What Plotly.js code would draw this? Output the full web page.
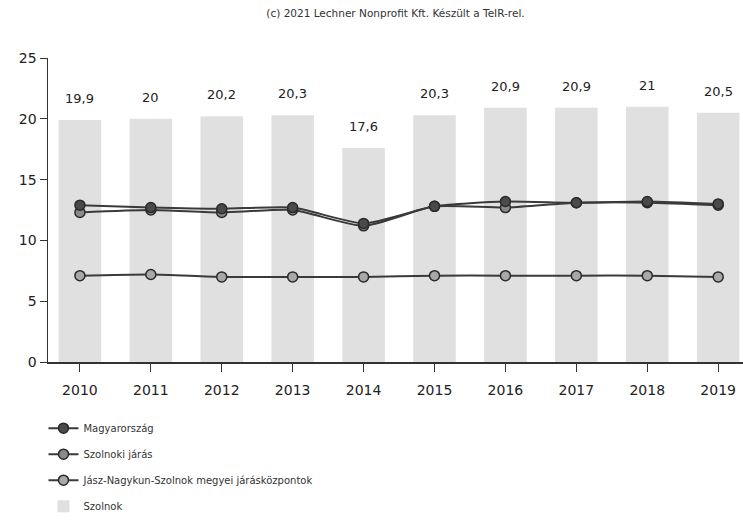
<!DOCTYPE html>
<html>
<head>
<meta charset="utf-8">
<script src="https://cdn.plot.ly/plotly-3.0.1.min.js"></script>
<style>html,body{margin:0;padding:0;background:#fff;}#chart{width:743px;height:522px;}</style>
</head>
<body>
<div id="chart"></div>
<script>
var years = ['2010','2011','2012','2013','2014','2015','2016','2017','2018','2019'];
var szolnok = [19.9, 20, 20.2, 20.3, 17.6, 20.3, 20.9, 20.9, 21, 20.5];
var magyarorszag = [12.9, 12.7, 12.6, 12.7, 11.4, 12.8, 13.2, 13.1, 13.2, 13.0];
var szolnokiJaras = [12.3, 12.5, 12.3, 12.5, 11.2, 12.8, 12.7, 13.1, 13.1, 12.9];
var jaraskozpontok = [7.1, 7.2, 7.0, 7.0, 7.0, 7.1, 7.1, 7.1, 7.1, 7.0];
var seriesNames = ['Magyarország', 'Szolnoki járás', 'Jász-Nagykun-Szolnok megyei járásközpontok', 'Szolnok'];
var yTicks = [0, 5, 10, 15, 20, 25];

var font = 'DejaVu Sans, Verdana, sans-serif';

function lineTrace(name, vals, fill, rank) {
  return {
    type: 'scatter', mode: 'lines+markers', x: years, y: vals, name: name,
    legendgroup: 'g' + rank, legendrank: rank,
    line: {color: '#3a3a3a', width: 2, shape: 'spline', smoothing: 0.6},
    marker: {symbol: 'circle', size: 10, color: fill, line: {color: '#2a2a2a', width: 1.5}},
    hoverinfo: 'x+y'
  };
}

var traces = [
  {type: 'bar', x: years, y: szolnok, name: seriesNames[3], legendgroup: 'g4', legendrank: 4,
   marker: {color: '#e0e0e0', line: {width: 0}}, hoverinfo: 'x+y'},
  lineTrace(seriesNames[2], jaraskozpontok, '#a8a8a8', 3),
  lineTrace(seriesNames[1], szolnokiJaras, '#8a8a8a', 2),
  lineTrace(seriesNames[0], magyarorszag, '#4a4a4a', 1)
];

var annotations = years.map(function (yr, i) {
  return {x: i, y: szolnok[i], xref: 'x', yref: 'y', text: String(szolnok[i]).replace('.', ','),
          showarrow: false, xanchor: 'center', yanchor: 'bottom', yshift: 12,
          font: {family: font, size: 13, color: '#222'}};
});

var layout = {
  width: 743, height: 522,
  margin: {l: 48, r: 0, t: 58, b: 160},
  paper_bgcolor: '#fff', plot_bgcolor: '#fff',
  font: {family: font, color: '#222'},
  title: {text: '(c) 2021 Lechner Nonprofit Kft. Készült a TeIR-rel.', x: 0.5, xref: 'paper',
          y: 0.975, yanchor: 'middle', font: {family: font, size: 10.5, color: '#333'}},
  bargap: 0.4,
  showlegend: true,
  legend: {orientation: 'v', x: -0.0065, xanchor: 'left', y: -0.17, yanchor: 'top',
           font: {family: font, size: 10, color: '#333'}, tracegroupgap: 7,
           traceorder: 'grouped', bgcolor: 'rgba(0,0,0,0)'},
  xaxis: {type: 'category', range: [-0.45, 9.35], showgrid: false, zeroline: false,
          showline: true, linecolor: '#333', linewidth: 1.5,
          ticks: 'outside', ticklen: 8, tickcolor: '#333', tickwidth: 1,
          ticklabelstandoff: 7, tickfont: {family: font, size: 14, color: '#222'}, fixedrange: true},
  yaxis: {range: [0, 25], tickvals: yTicks, ticktext: yTicks.map(String), showgrid: false, zeroline: false,
          showline: true, linecolor: '#333', linewidth: 1.5,
          ticks: 'outside', ticklen: 7, tickcolor: '#333', tickwidth: 1,
          tickfont: {family: font, size: 14, color: '#222'}, fixedrange: true},
  annotations: annotations
};

Plotly.newPlot('chart', traces, layout, {displayModeBar: false, staticPlot: true});
</script>
</body>
</html>
